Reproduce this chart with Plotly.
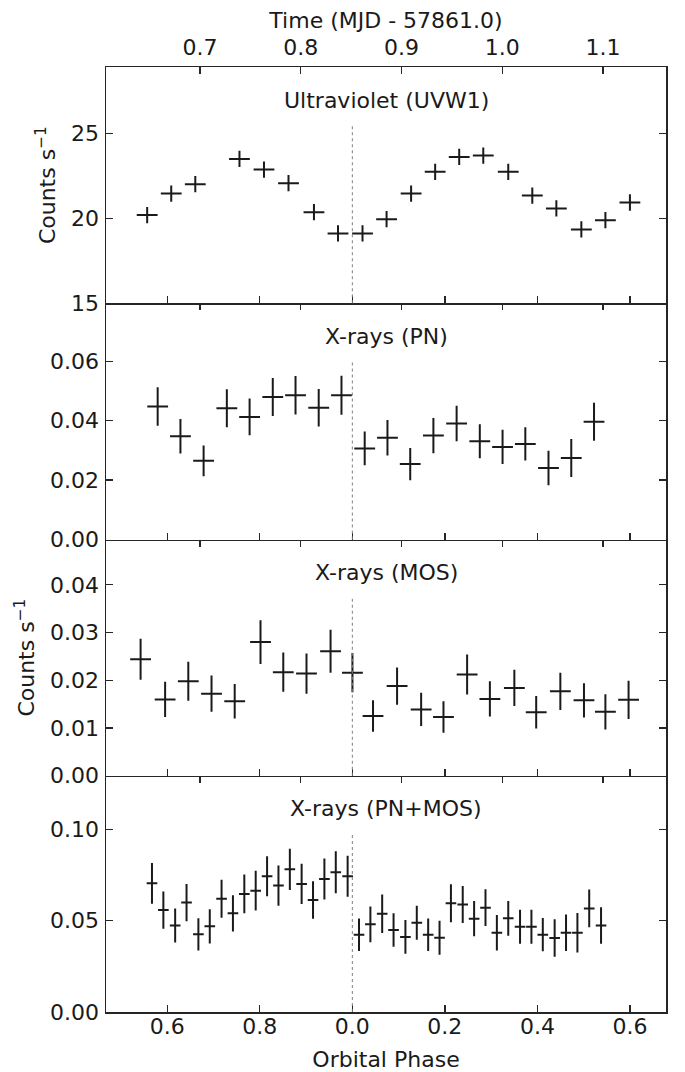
import plotly.graph_objects as go

# ---------------- data ----------------
PHASE_RANGE = [0.4675, 1.678]
T0 = 0.8512        # MJD - 57861.0 at phase 0
PERIOD = 0.4593    # days

phase_tickvals = [0.6, 0.8, 1.0, 1.2, 1.4, 1.6]
phase_ticktext = ["0.6", "0.8", "0.0", "0.2", "0.4", "0.6"]
time_tickvals = [0.7, 0.8, 0.9, 1.0, 1.1]

panel_titles = ["Ultraviolet (UVW1)", "X-rays (PN)", "X-rays (MOS)", "X-rays (PN+MOS)"]

uv_phase = [0.5565, 0.6085, 0.6605, 0.756, 0.809, 0.862, 0.917, 0.969, 1.022, 1.074,
            1.127, 1.179, 1.231, 1.283, 1.337, 1.389, 1.441, 1.495, 1.547, 1.600]
uv_rate = [20.20, 21.47, 22.02, 23.51, 22.88, 22.08, 20.37, 19.12, 19.12, 19.96,
           21.47, 22.75, 23.63, 23.71, 22.75, 21.35, 20.59, 19.35, 19.90, 20.94]
uv_err = [0.48] * 20
uv_xerr = [0.0225] * 20

pn_phase = [0.5792, 0.6284, 0.6785, 0.7287, 0.7779, 0.828, 0.8772, 0.9273, 0.9765, 1.0267,
            1.0759, 1.1251, 1.1752, 1.2254, 1.2755, 1.3247, 1.3739, 1.424, 1.4732, 1.5224]
pn_rate = [0.0448, 0.0348, 0.0265, 0.0442, 0.0413, 0.0480, 0.0486, 0.0444, 0.0486, 0.0307,
           0.0343, 0.0254, 0.0350, 0.0391, 0.0331, 0.0312, 0.0322, 0.0241, 0.0275, 0.0397]
pn_err = [0.0065, 0.0058, 0.0052, 0.0064, 0.0062, 0.0064, 0.0065, 0.0063, 0.0066, 0.0057,
          0.0060, 0.0054, 0.0059, 0.0060, 0.0057, 0.0058, 0.0056, 0.0058, 0.0064, 0.0064]
pn_xerr = [0.0225] * 20

mos_phase = [0.5423, 0.5953, 0.6454, 0.6956, 0.7457, 0.8015, 0.8507, 0.9009, 0.9529, 1.0002, 1.0447,
             1.0967, 1.1487, 1.197, 1.2481, 1.2973, 1.3502, 1.3974, 1.4496, 1.5007, 1.5470, 1.5971]
mos_rate = [0.0244, 0.0160, 0.0198, 0.0172, 0.0156, 0.0280, 0.0217, 0.0214, 0.0261, 0.0216, 0.0125,
            0.0188, 0.0139, 0.0123, 0.0212, 0.0161, 0.0184, 0.0133, 0.0177, 0.0158, 0.0134, 0.0159]
mos_err = [0.0043, 0.0037, 0.0041, 0.0038, 0.0036, 0.0046, 0.0041, 0.0042, 0.0045, 0.0041, 0.0033,
           0.0039, 0.0035, 0.0033, 0.0042, 0.0037, 0.0038, 0.0034, 0.0039, 0.0036, 0.0037, 0.0040]
mos_xerr = [0.0225] * 22

all_phase = [0.5669, 0.5915, 0.617, 0.6416, 0.6672, 0.6918, 0.7173, 0.7419, 0.7665, 0.7911,
             0.8157, 0.8403, 0.8649, 0.8904, 0.915, 0.9396, 0.9642, 0.9898, 1.0144, 1.039,
             1.0645, 1.0891, 1.1147, 1.1393, 1.1639, 1.1885, 1.2131, 1.2386, 1.2632, 1.2878,
             1.3124, 1.337, 1.3625, 1.3871, 1.4117, 1.4373, 1.4619, 1.4865, 1.512, 1.5376]
all_rate = [0.0704, 0.0558, 0.0473, 0.0599, 0.0425, 0.0469, 0.0620, 0.0540, 0.0646, 0.0664,
            0.0743, 0.0692, 0.0781, 0.0701, 0.0613, 0.0728, 0.0765, 0.0743, 0.0423, 0.0480,
            0.0538, 0.0449, 0.0411, 0.0489, 0.0423, 0.0407, 0.0595, 0.0588, 0.0511, 0.0571,
            0.0434, 0.0513, 0.0467, 0.0467, 0.0423, 0.0405, 0.0434, 0.0434, 0.0567, 0.0473]
all_err = [0.0111, 0.0102, 0.0093, 0.0102, 0.0088, 0.0094, 0.0104, 0.0099, 0.0106, 0.0109,
           0.0110, 0.0110, 0.0113, 0.0110, 0.0103, 0.0112, 0.0115, 0.0112, 0.0089, 0.0098,
           0.0105, 0.0092, 0.0092, 0.0093, 0.0089, 0.0093, 0.0104, 0.0101, 0.0097, 0.0101,
           0.0097, 0.0095, 0.0093, 0.0093, 0.0091, 0.0103, 0.0100, 0.0108, 0.0103, 0.0100]
all_xerr = [0.0115] * 40

y_ranges = [[15, 28.93], [0, 0.0796], [0, 0.0495], [0, 0.1293]]
y_dticks = [5, 0.02, 0.01, 0.05]
y_formats = ["d", ".2f", ".2f", ".2f"]
y_titles = ["Counts s<sup>\u22121</sup>", None, "Counts s<sup>\u22121</sup>", None]

series = [
    (uv_phase, uv_rate, uv_err, uv_xerr),
    (pn_phase, pn_rate, pn_err, pn_xerr),
    (mos_phase, mos_rate, mos_err, mos_xerr),
    (all_phase, all_rate, all_err, all_xerr),
]

# ---------------- figure ----------------
FONT = "DejaVu Sans"
FS = 22
INK = "#1a1a1a"
AX = "#262626"

time_range = [T0 + (p - 1.0) * PERIOD for p in PHASE_RANGE]

fig = go.Figure()

for i, (px, py, pe, pxe) in enumerate(series):
    n = i + 1
    xa = "x" if n == 1 else f"x{n}"
    ya = "y" if n == 1 else f"y{n}"
    fig.add_trace(go.Scatter(
        x=px, y=py, mode="markers",
        marker=dict(size=1, color=INK),
        error_x=dict(type="data", array=pxe, width=0, thickness=2.0, color=INK),
        error_y=dict(type="data", array=pe, width=0, thickness=2.0, color=INK),
        xaxis=xa, yaxis=ya, showlegend=False, hoverinfo="skip",
    ))
    # empty trace for the top (time) axis of each panel
    fig.add_trace(go.Scatter(x=[], y=[], xaxis=f"x{n + 4}", yaxis=ya,
                             showlegend=False, hoverinfo="skip"))

    dom = [1 - (i + 1) / 4, 1 - i / 4]
    common = dict(ticks="inside", ticklen=7, tickwidth=1.3, tickcolor=AX,
                  showgrid=False, zeroline=False, automargin=False,
                  linewidth=1.5, linecolor=AX,
                  tickfont=dict(family=FONT, size=FS, color=INK))
    xdict = dict(**common, range=PHASE_RANGE, showline=True,
                 anchor=ya, domain=[0, 1],
                 tickvals=phase_tickvals, ticktext=phase_ticktext,
                 showticklabels=(n == 4), ticklabelstandoff=-6)
    if n == 4:
        xdict["title"] = dict(text="Orbital Phase",
                              font=dict(family=FONT, size=FS, color=INK), standoff=17)
    if n != 1:
        xdict["matches"] = "x"
    fig.layout[f"xaxis{'' if n == 1 else n}"] = xdict

    tdict = dict(**common, range=time_range, showline=(n == 1),
                 anchor=ya, overlaying=xa, side="top",
                 tickvals=time_tickvals, tickformat=".1f",
                 showticklabels=(n == 1), ticklabelstandoff=2)
    if n == 1:
        tdict["title"] = dict(text="Time (MJD - 57861.0)",
                              font=dict(family=FONT, size=FS, color=INK), standoff=0)
    fig.layout[f"xaxis{n + 4}"] = tdict

    ydict = dict(**common, range=y_ranges[i], domain=dom, anchor=xa,
                 dtick=y_dticks[i], tick0=0, tickformat=y_formats[i],
                 showline=True, mirror="ticks", ticklabelstandoff=1)
    if y_titles[i]:
        ydict["title"] = dict(text=y_titles[i],
                              font=dict(family=FONT, size=FS, color=INK), standoff=9)
    fig.layout[f"yaxis{'' if n == 1 else n}"] = ydict

    # vertical dotted line at phase 0
    fig.add_shape(type="line", xref=xa, yref=f"{ya} domain",
                  x0=1.0, x1=1.0, y0=0, y1=0.75,
                  line=dict(color="#808080", width=1, dash="dot"))
    # panel title
    fig.add_annotation(text=panel_titles[i], xref=f"{xa} domain", yref=f"{ya} domain",
                       x=0.5, y=0.86, xanchor="center", yanchor="middle", showarrow=False,
                       font=dict(family=FONT, size=FS, color=INK))

fig.update_layout(
    width=685, height=1072,
    margin=dict(l=106, r=19, t=67, b=60, autoexpand=False),
    paper_bgcolor="white", plot_bgcolor="white",
    font=dict(family=FONT, size=FS, color=INK),
    showlegend=False,
)

fig.write_html("out.html", config={"displayModeBar": False, "staticPlot": True},
               post_script="document.body.style.margin='0';document.body.style.padding='0';")
